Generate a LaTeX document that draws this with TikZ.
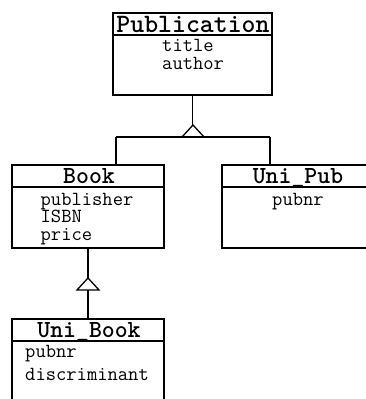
\documentclass[tikz,border=0pt]{standalone}
\begin{document}
\begin{tikzpicture}[x=1pt,y=-1pt,
  classbox/.style={draw=black,line width=1.3pt,inner sep=0pt,fill=none},
  sep/.style={line width=1.3pt},
  conn/.style={line width=1.3pt},
  ttl/.style={font=\ttfamily\bfseries\fontsize{24.6}{24.6}\selectfont,anchor=base,inner sep=0pt},
  ttlbig/.style={font=\ttfamily\bfseries\fontsize{26.5}{26.5}\selectfont,anchor=base,inner sep=0pt},
  attr/.style={font=\ttfamily\fontsize{20}{20}\selectfont,anchor=base west,inner sep=0pt}]
\useasboundingbox (0,0) rectangle (366,399);
\clip (0,0) rectangle (366,399);
\fill[white] (0,0) rectangle (366,399);
% Publication
\node[classbox,minimum width=159pt,minimum height=82pt] (pub) at (192.5,54) {};
\draw[sep] (113,35) -- (272,35);
\node[ttlbig] (pubT) at (193,32) {Publication};
\node[attr] (pubA1) at (162,51) {title};
\node[attr] (pubA2) at (162,69) {author};
% Book
\node[classbox,minimum width=152pt,minimum height=83pt] (book) at (88,206.5) {};
\draw[sep] (12,187) -- (164,187);
\node[ttl] (bookT) at (89,183) {Book};
\node[attr] (bookA1) at (40.5,205) {publisher};
\node[attr] (bookA2) at (40.5,222.5) {ISBN};
\node[attr] (bookA3) at (40.5,240) {price};
% Uni_Pub
\node[classbox,minimum width=152pt,minimum height=83pt] (unipub) at (298,206.5) {};
\draw[sep] (222,187) -- (374,187);
\node[ttl] (unipubT) at (298,183) {Uni\_Pub};
\node[attr] (unipubA1) at (272,205) {pubnr};
% Uni_Book
\node[classbox,minimum width=152pt,minimum height=120pt] (unibook) at (88,379) {};
\draw[sep] (12,341) -- (164,341);
\node[ttl] (unibookT) at (89,337) {Uni\_Book};
\node[attr] (unibookA1) at (25,357) {pubnr};
\node[attr] (unibookA2) at (25,380) {discriminant};
% generalization 1
\coordinate (g1) at (193,125);
\coordinate (g1l) at (182,137);
\coordinate (g1r) at (204,137);
\coordinate (j1l) at (116,137);
\coordinate (j1r) at (270,137);
\draw[conn] (pub.south) -- (pub.south |- g1);
\draw[conn,line join=miter] (g1) -- (g1l) -- (g1r) -- cycle;
\draw[conn] (j1l) -- (j1r);
\draw[conn] (j1l) -- (j1l |- book.north);
\draw[conn] (j1r) -- (j1r |- unipub.north);
% generalization 2
\coordinate (g2) at (88,278);
\coordinate (g2l) at (77,290);
\coordinate (g2r) at (99,290);
\draw[conn] (book.south) -- (g2);
\draw[conn,line join=miter] (g2) -- (g2l) -- (g2r) -- cycle;
\draw[conn] (g2 |- g2l) -- (unibook.north);
\end{tikzpicture}
\end{document}
